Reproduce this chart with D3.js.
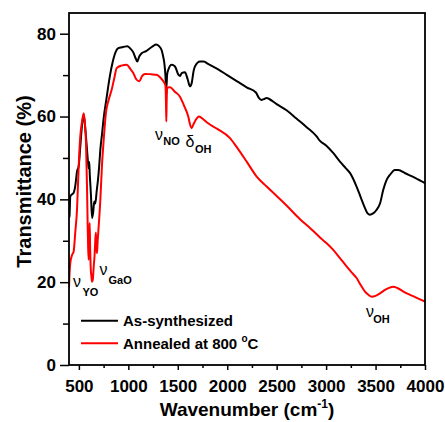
<!DOCTYPE html>
<html><head><meta charset="utf-8">
<script src="https://cdn.jsdelivr.net/npm/d3@7"></script>
<style>body{margin:0;background:#fff}svg{display:block}text{font-family:"Liberation Sans",Arial,sans-serif}</style>
</head><body><svg id="c" width="445" height="422"></svg>
<script>
const asWn = [400,405,413,430,447,465,481,498,515,530,549,565,582,592,599,605,610,615,622,633,645,655,666,680,693,705,717,735,751,777,795,815,840,870,898,949,990,1017,1050,1075,1091,1110,1135,1180,1219,1250,1280,1310,1337,1352,1364,1375,1382,1386,1392,1404,1438,1472,1506,1525,1539,1573,1600,1623,1640,1660,1674,1725,1760,1800,1900,2000,2100,2200,2290,2320,2345,2370,2399,2420,2500,2600,2700,2800,2904,2938,3000,3071,3140,3200,3241,3308,3350,3393,3420,3443,3475,3511,3545,3578,3612,3645,3696,3730,3800,3900,4000];
const asT = [35.5,36,40.7,41.2,41.6,43.5,46.7,48,53,57.5,60.4,57,52,49,47.5,49,46,44,41,35.5,37,39.5,39,42,44.7,48,52,56,59.7,64,67,70,73,75.5,76.5,76.8,77,76.5,75.5,74,73.3,74.5,75.3,75.8,76.5,77,77.4,77,76,74.5,72.9,70,67,67.5,70,71.3,72.5,72.1,70.1,69.8,70.5,70.7,69,67.3,68,71,72.1,73.3,73.3,72.8,71.5,70,68.5,67,65.8,64.5,64,64.2,64.5,64.3,63,61.5,59.5,57.5,55.2,54.1,53,51.2,49.1,47.5,46.4,43.1,40.5,37.9,36.6,36.3,36.6,37.5,39,42.3,44.7,45.9,47.1,47.1,46.3,45.2,43.9];
const anWn = [400,405,413,430,447,463,481,498,514,530,549,562,572,582,589,594,599,604,609,614,619,626,633,640,650,660,666,672,677,683,690,700,717,733,751,774,801,832,860,882,930,983,1020,1050,1080,1111,1140,1169,1230,1287,1320,1354,1375,1381,1384,1388,1394,1421,1470,1522,1560,1606,1625,1640,1660,1690,1714,1760,1800,1900,2028,2100,2200,2298,2399,2500,2600,2736,2850,2938,3000,3072,3140,3207,3260,3308,3350,3393,3430,3460,3500,3545,3600,3679,3720,3800,3900,4000];
const anT = [18.6,22,24.6,26.5,27.4,31.9,37.5,48,55.2,58.5,60.8,58,53.6,43.1,33.4,28,25.4,30,34.3,28,23.8,21.5,20.1,20.5,23.8,27,30.2,32,28.5,27,30,33.4,39.9,48,54.4,61,64,66.5,69.5,71.7,72.3,72.5,71.5,70.5,69,68.5,69.8,70.3,70.2,70.1,69.5,68.5,67.5,63,58.8,64,67,67.1,66,64.8,62.8,60,58,57.2,58.2,59.5,60,59.3,58.5,57,54.8,52.5,49,45.5,43.1,40.8,38.5,35.2,32.8,30.8,29.5,27.8,25.8,23.8,22.3,21.0,19.3,17.7,16.9,16.5,16.7,17.3,18.2,18.9,18.6,17.5,16.4,15.3];
const xMajor = [500,1000,1500,2000,2500,3000,3500,4000];
const xMinor = [750,1250,1750,2250,2750,3250,3750];
const yMajor = [0,20,40,60,80];
const yMinor = [10,30,50,70];
const seriesNames = ["As-synthesized","Annealed at 800 "];
const seriesColors = ["#000000","#ff0000"];

const svg = d3.select("#c");
const L=69,R=425,T=13,B=365;
const x = d3.scaleLinear().domain([400,4000]).range([L,R]);
const y = d3.scaleLinear().domain([0,85]).range([B,T]);

const line = d3.line().x(d=>x(d[0])).y(d=>y(d[1])).curve(d3.curveMonotoneX);
svg.append("clipPath").attr("id","cp").append("rect").attr("x",L).attr("y",T).attr("width",R-L).attr("height",B-T);
const series = [d3.zip(asWn,asT), d3.zip(anWn,anT)];
series.forEach((s,i)=>{
  svg.append("path").datum(s).attr("d",line).attr("fill","none").attr("stroke",seriesColors[i]).attr("stroke-width",2).attr("stroke-linejoin","round").attr("clip-path","url(#cp)");
});

const fs = 17;
function styleAxis(g){g.selectAll("path.domain").remove();g.selectAll("line").attr("stroke","#000").attr("stroke-width",1.5);
  g.selectAll("text").attr("font-size",fs).attr("font-weight","bold").attr("fill","#000");}
svg.append("g").attr("transform",`translate(0,${B})`).call(d3.axisBottom(x).tickValues(xMajor).tickSize(5).tickPadding(10).tickFormat(d3.format("d"))).call(styleAxis);
svg.append("g").attr("transform",`translate(0,${B})`).call(d3.axisBottom(x).tickValues(xMinor).tickSize(3).tickFormat("")).call(styleAxis);
svg.append("g").attr("transform",`translate(${L},0)`).call(d3.axisLeft(y).tickValues(yMajor).tickSize(9).tickPadding(4).tickFormat(d3.format("d"))).call(styleAxis);
svg.append("g").attr("transform",`translate(${L},0)`).call(d3.axisLeft(y).tickValues(yMinor).tickSize(6).tickFormat("")).call(styleAxis);

svg.append("rect").attr("x",L).attr("y",T).attr("width",R-L).attr("height",B-T).attr("fill","none").attr("stroke","#000").attr("stroke-width",1.8);

// axis titles
const xt = svg.append("text").attr("x",(L+R)/2).attr("y",416).attr("text-anchor","middle").attr("font-size",19).attr("font-weight","bold");
xt.append("tspan").text("Wavenumber (cm");
xt.append("tspan").attr("font-size",12).attr("dy",-8).text("-1");
xt.append("tspan").attr("dy",8).text(")");
svg.append("text").attr("transform","translate(31,181.5) rotate(-90)").attr("text-anchor","middle").attr("font-size",20).attr("font-weight","bold").text("Transmittance (%)");

// legend
const lg = svg.append("g");
seriesNames.forEach((n,i)=>{
  const yy = 320.7 + i*22.6;
  lg.append("line").attr("x1",81).attr("x2",118).attr("y1",yy).attr("y2",yy).attr("stroke",seriesColors[i]).attr("stroke-width",2);
  const t = lg.append("text").attr("x",123).attr("y",yy+5.3).attr("font-size",15).attr("font-weight","bold").text(n);
  if(i===1){ t.append("tspan").attr("font-size",10).attr("dy",-7).text("o"); t.append("tspan").attr("dy",7).text("C"); }
});

// annotations
function ann(sym, sub, gx, gy, sx, sy, symFont){
  svg.append("text").attr("x",gx).attr("y",gy).attr("font-size",16).attr("font-family",symFont||null).text(sym);
  svg.append("text").attr("x",sx).attr("y",sy).attr("font-size",11).attr("font-weight","bold").text(sub);
}
ann("ν","YO",73,286.5,82.5,295.5);
ann("ν","GaO",99.5,275,108.5,283.5);
ann("ν","NO",155,139.5,163.3,145);
ann("δ","OH",185.5,146.5,195,153.3,"DejaVu Sans");
ann("ν","OH",366,316.7,373.3,322.7);
</script></body></html>
